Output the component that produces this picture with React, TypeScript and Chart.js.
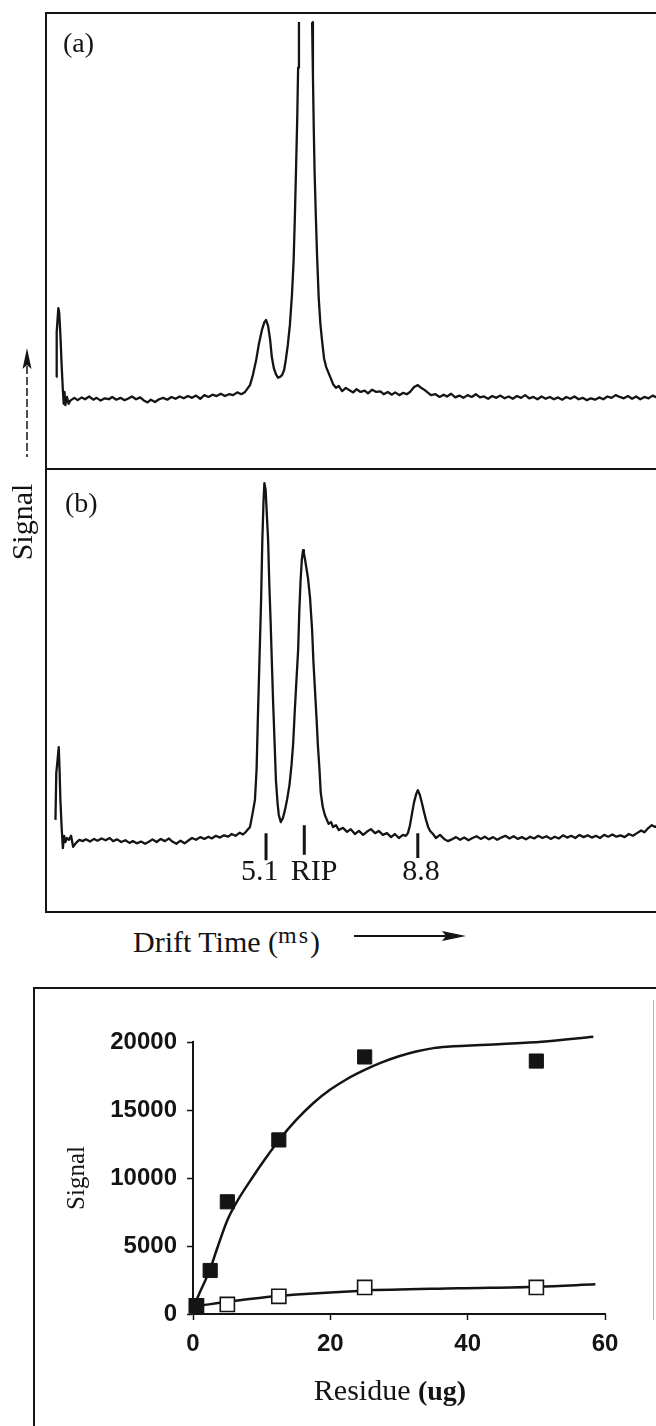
import React, { useEffect, useRef } from "react";
import { Chart, registerables } from "chart.js";

Chart.register(...registerables);

const INK = "#141414";
const SERIF = '"Liberation Serif", "Times New Roman", Times, serif';
const SANS = '"Liberation Sans", Arial, Helvetica, sans-serif';

// ---------- Panel (a): drift time (ms) vs signal (arbitrary units) ----------
const gateSpikeA: [number, number][] = [[0.00,20.2],[0.01,30.0],[0.05,35.3],[0.07,34.4],[0.10,29.4],[0.13,22.8],[0.16,17.3],[0.18,14.3],[0.20,16.9],[0.22,14.0],[0.26,15.8],[0.30,14.3]];
const earlyBaselineA: [number, number][] = [[0.34,15.0],[0.44,15.6],[0.52,15.1],[0.62,15.7],[0.70,15.3],[0.80,15.9],[0.90,15.2],[0.98,15.6],[1.08,15.0],[1.18,15.5],[1.28,15.3],[1.36,15.8],[1.46,15.2],[1.56,15.6],[1.66,15.1],[1.74,15.4],[1.84,15.9],[1.94,15.3],[2.04,15.7],[2.12,15.1],[2.22,14.6],[2.30,15.2],[2.40,14.7],[2.50,15.3],[2.60,15.6],[2.70,15.2],[2.80,15.8],[2.90,15.4],[3.00,15.9],[3.10,15.5],[3.20,16.0],[3.30,15.6],[3.40,16.1],[3.50,15.4],[3.60,16.2],[3.70,15.8],[3.80,16.3],[3.90,16.0],[4.00,16.5],[4.10,16.0],[4.20,16.4],[4.30,16.2],[4.40,16.8],[4.50,16.4]];
const peaksA: [number, number | null][] = [[4.59,16.9],[4.71,18.4],[4.78,20.6],[4.86,23.9],[4.93,27.6],[5.00,30.5],[5.06,32.2],[5.10,32.7],[5.15,31.4],[5.20,28.3],[5.24,24.6],[5.29,22.1],[5.34,20.8],[5.39,20.0],[5.44,20.2],[5.49,20.6],[5.54,21.7],[5.58,23.9],[5.63,27.2],[5.68,31.6],[5.73,38.2],[5.77,45.5],[5.80,55.0],[5.83,66.0],[5.86,77.5],[5.88,88.0],[5.90,98.0],[6.06,null],[6.22,98.0],[6.24,86.4],[6.26,75.0],[6.28,65.4],[6.31,55.7],[6.34,46.9],[6.38,37.7],[6.42,32.0],[6.46,28.3],[6.51,24.3],[6.56,22.4],[6.61,21.3],[6.66,20.2],[6.73,18.6],[6.80,17.8],[6.87,18.2],[6.95,17.1],[7.04,17.8]];
const midBaselineA: [number, number][] = [[7.12,17.3],[7.22,16.8],[7.30,17.5],[7.40,16.9],[7.50,17.2],[7.58,16.6],[7.68,17.4],[7.78,16.9],[7.88,17.0],[7.96,16.4],[8.06,16.9],[8.16,16.3],[8.24,16.8],[8.34,16.2],[8.44,16.7],[8.52,16.4]];
const peak88A: [number, number][] = [[8.60,16.9],[8.70,18.0],[8.79,18.4],[8.87,17.8],[8.96,17.3],[9.11,16.2]];
const lateBaselineA: [number, number][] = [[9.22,16.4],[9.32,15.8],[9.42,16.3],[9.50,15.9],[9.60,16.5],[9.70,15.7],[9.80,16.1],[9.90,15.6],[10.00,16.2],[10.10,15.8],[10.20,16.4],[10.30,15.7],[10.40,15.9],[10.50,15.4],[10.60,16.0],[10.70,15.6],[10.80,16.1],[10.90,15.5],[11.00,15.9],[11.10,15.4],[11.20,16.0],[11.30,15.6],[11.40,16.2],[11.50,15.5],[11.60,15.8],[11.70,15.3],[11.80,15.9],[11.90,15.4],[12.00,15.8],[12.10,15.3],[12.20,15.7],[12.30,15.2],[12.40,15.8],[12.50,15.4],[12.60,15.9],[12.70,15.3],[12.80,15.6],[12.90,15.1],[13.00,15.5],[13.10,15.2],[13.20,15.7],[13.30,15.3],[13.40,15.9],[13.50,15.6],[13.60,16.2],[13.70,15.8],[13.80,15.5],[13.90,16.0],[14.00,15.4],[14.10,15.9],[14.20,15.3],[14.30,15.8],[14.40,15.5],[14.50,16.1],[14.60,15.7],[14.70,15.9],[14.80,15.5]];

// ---------- Panel (b) ----------
const gateSpikeB: [number, number][] = [[-0.02,20.8],[0.00,31.4],[0.02,33.2],[0.06,37.2],[0.08,32.1],[0.10,25.3],[0.13,19.2],[0.16,14.4],[0.19,17.2],[0.22,15.8],[0.26,16.7],[0.31,16.3],[0.36,17.2],[0.41,14.7],[0.48,15.6],[0.56,16.3]];
const earlyBaselineB: [number, number][] = [[0.64,16.0],[0.72,16.4],[0.82,15.9],[0.92,16.5],[1.00,16.1],[1.10,16.6],[1.20,16.2],[1.30,16.7],[1.38,16.0],[1.48,16.4],[1.58,15.8],[1.68,16.2],[1.78,15.6],[1.86,16.0],[1.96,15.5],[2.06,15.9],[2.16,15.4],[2.26,15.9],[2.34,16.4],[2.44,15.8],[2.54,16.5],[2.64,16.0],[2.74,16.6],[2.82,15.9],[2.92,15.4],[3.02,16.1],[3.12,15.5],[3.22,16.2],[3.30,16.7],[3.40,16.3],[3.50,16.9],[3.60,16.5],[3.70,17.0],[3.78,16.6],[3.88,17.2],[3.98,16.8],[4.08,17.3],[4.18,17.0],[4.26,17.6],[4.36,17.2],[4.46,17.9],[4.54,17.5]];
const peaksB: [number, number][] = [[4.61,18.1],[4.71,19.2],[4.78,22.6],[4.83,25.3],[4.87,32.1],[4.90,43.3],[4.94,56.9],[4.98,70.4],[5.01,84.0],[5.04,93.0],[5.06,96.8],[5.09,95.3],[5.12,89.6],[5.15,84.0],[5.18,73.8],[5.21,65.9],[5.24,56.9],[5.27,47.9],[5.31,37.7],[5.34,29.8],[5.38,24.6],[5.41,21.9],[5.46,20.3],[5.51,21.2],[5.56,23.0],[5.61,25.3],[5.67,28.7],[5.72,33.2],[5.76,38.1],[5.80,45.6],[5.84,52.4],[5.88,59.1],[5.91,68.2],[5.94,74.9],[5.97,79.5],[6.00,81.7],[6.02,81.0],[6.05,79.5],[6.08,77.7],[6.12,75.4],[6.17,70.9],[6.22,63.7],[6.25,56.9],[6.29,50.1],[6.33,43.3],[6.36,37.7],[6.40,32.1],[6.43,26.9],[6.48,23.7],[6.53,21.9],[6.58,20.8],[6.62,19.9],[6.68,20.3],[6.73,19.2]];
const midBaselineB: [number, number][] = [[6.80,19.6],[6.87,18.5],[6.97,19.0],[7.07,18.1],[7.16,18.7],[7.26,17.6],[7.36,18.3],[7.46,17.4],[7.55,18.1],[7.65,18.7],[7.75,17.8],[7.84,18.3],[7.94,17.4],[8.04,17.8],[8.14,16.9],[8.23,17.6],[8.33,16.7],[8.43,17.4],[8.50,17.2]];
const peak88B: [number, number][] = [[8.55,17.8],[8.60,19.6],[8.65,22.3],[8.70,24.8],[8.75,26.6],[8.79,27.5],[8.84,26.4],[8.89,24.6],[8.94,22.6],[8.99,20.8],[9.04,19.2],[9.09,18.3],[9.16,17.6],[9.23,16.7],[9.33,17.4],[9.43,16.5],[9.52,16.0]];
const lateBaselineB: [number, number][] = [[9.62,16.4],[9.72,16.9],[9.82,16.3],[9.92,16.8],[10.02,16.2],[10.12,16.7],[10.22,17.1],[10.32,16.5],[10.42,17.0],[10.52,16.4],[10.62,16.9],[10.72,16.3],[10.82,16.8],[10.92,17.2],[11.02,16.6],[11.12,17.1],[11.22,16.5],[11.32,16.9],[11.42,16.4],[11.52,17.0],[11.62,16.6],[11.72,17.2],[11.82,16.7],[11.92,17.1],[12.02,16.5],[12.12,17.0],[12.22,16.6],[12.32,17.3],[12.42,16.8],[12.52,17.2],[12.62,16.7],[12.72,17.4],[12.82,16.9],[12.92,17.3],[13.02,16.8],[13.12,17.2],[13.22,16.7],[13.32,17.4],[13.42,17.0],[13.52,17.5],[13.62,17.0],[13.72,17.3],[13.82,16.9],[13.92,17.6],[14.02,17.2],[14.12,17.8],[14.22,18.4],[14.30,18.0],[14.40,19.0],[14.48,19.6],[14.56,19.2],[14.66,19.8]];

// peak markers under trace (b)
const peakMarkTimes = [5.10, 6.03, 8.79];
const peakMarkTop = [17.8, 19.6, 17.8];
const peakMarkBottom = [11.7, 12.9, 12.2];
const peakLabels = ["5.1", "RIP", "8.8"];
const peakLabelTimes = [4.95, 6.27, 8.87];
const peakLabelLevel = 7.2;

// ---------- Bottom plot: Signal vs Residue (ug) ----------
const residueFilled = [0.5, 2.5, 5, 12.5, 25, 50];
const signalFilled = [600, 3200, 8250, 12800, 18900, 18600];
const residueOpen = [0.5, 5, 12.5, 25, 50];
const signalOpen = [600, 700, 1300, 1950, 1950];
const fitFilledX = [0, 1, 2.5, 3.5, 5, 6.15, 8.8, 10.5, 12.55, 15, 17.5, 20, 22.5, 25, 27.5, 30, 32.5, 35, 37, 45, 50.8, 58.3];
const fitFilledY = [420, 1600, 3300, 4800, 6900, 8050, 10150, 11400, 12800, 14250, 15500, 16500, 17300, 17950, 18500, 18950, 19300, 19550, 19650, 19850, 20020, 20390];
const fitOpenX = [0.5, 5.9, 12.3, 24.7, 38.6, 50.2, 58.6];
const fitOpenY = [580, 956, 1320, 1715, 1890, 2010, 2180];
const residueTicks = [0, 20, 40, 60];
const signalTicks = [0, 5000, 10000, 15000, 20000];
const residueTitle = "Residue ";
const residueUnit = "(ug)";

const DRIFT_MIN = -0.25;
const DRIFT_MAX = 15.7;

function toXY(points: [number, number | null][]) {
  return points.map(([x, y]) => ({ x, y }));
}

function spectrumConfig(points: [number, number | null][], extra: any[], plugins: any[]) {
  return {
    type: "line",
    data: {
      datasets: [
        {
          data: toXY(points),
          borderColor: INK,
          borderWidth: 2.3,
          pointRadius: 0,
          tension: 0,
          spanGaps: false,
          fill: false,
          borderJoinStyle: "round",
        },
        ...extra,
      ],
    },
    options: {
      animation: false,
      responsive: false,
      devicePixelRatio: 1,
      events: [],
      layout: { padding: 0, autoPadding: false },
      plugins: { legend: { display: false }, tooltip: { enabled: false } },
      scales: {
        x: { type: "linear", min: DRIFT_MIN, max: DRIFT_MAX, display: false },
        y: { type: "linear", min: 0, max: 100, display: false },
      },
    },
    plugins,
  };
}

const peakLabelPlugin = {
  id: "peakLabels",
  afterDatasetsDraw(chart: any) {
    const { ctx, scales } = chart;
    ctx.save();
    ctx.font = `30px ${SERIF}`;
    ctx.fillStyle = INK;
    ctx.textAlign = "center";
    ctx.textBaseline = "alphabetic";
    peakLabels.forEach((t, i) => {
      ctx.fillText(t, scales.x.getPixelForValue(peakLabelTimes[i]), scales.y.getPixelForValue(peakLabelLevel));
    });
    ctx.restore();
  },
};

const residueTitlePlugin = {
  id: "residueTitle",
  afterDraw(chart: any) {
    const { ctx, chartArea, scales } = chart;
    const cx = (chartArea.left + chartArea.right) / 2 - 9;
    const y = scales.x.bottom - 26;
    const normal = `30px ${SERIF}`;
    const bold = `bold 28px ${SERIF}`;
    ctx.save();
    ctx.fillStyle = INK;
    ctx.textAlign = "left";
    ctx.textBaseline = "alphabetic";
    ctx.font = normal;
    const w1 = ctx.measureText(residueTitle).width;
    ctx.font = bold;
    const w2 = ctx.measureText(residueUnit).width;
    const x0 = cx - (w1 + w2) / 2;
    ctx.font = normal;
    ctx.fillText(residueTitle, x0, y);
    ctx.font = bold;
    ctx.fillText(residueUnit, x0 + w1, y);
    ctx.restore();
  },
};

function markDataset() {
  const pts: { x: number; y: number | null }[] = [];
  peakMarkTimes.forEach((t, i) => {
    pts.push({ x: t, y: peakMarkTop[i] }, { x: t, y: peakMarkBottom[i] }, { x: t + 0.01, y: null });
  });
  return {
    data: pts,
    borderColor: INK,
    borderWidth: 3,
    pointRadius: 0,
    spanGaps: false,
    tension: 0,
    borderCapStyle: "butt",
  };
}

function residueConfig() {
  return {
    type: "scatter",
    data: {
      datasets: [
        {
          label: "filled",
          data: residueFilled.map((x, i) => ({ x, y: signalFilled[i] })),
          pointStyle: "rect",
          pointRadius: 10,
          backgroundColor: INK,
          borderColor: INK,
          borderWidth: 1,
          order: 0,
          clip: false,
        },
        {
          label: "open",
          data: residueOpen.map((x, i) => ({ x, y: signalOpen[i] })),
          pointStyle: "rect",
          pointRadius: 10,
          backgroundColor: "#ffffff",
          borderColor: INK,
          borderWidth: 1.6,
          order: 1,
          clip: false,
        },
        {
          label: "fit filled",
          data: fitFilledX.map((x, i) => ({ x, y: fitFilledY[i] })),
          showLine: true,
          pointRadius: 0,
          borderColor: INK,
          borderWidth: 2.5,
          cubicInterpolationMode: "monotone",
          order: 2,
          clip: false,
        },
        {
          label: "fit open",
          data: fitOpenX.map((x, i) => ({ x, y: fitOpenY[i] })),
          showLine: true,
          pointRadius: 0,
          borderColor: INK,
          borderWidth: 2.5,
          cubicInterpolationMode: "monotone",
          order: 3,
          clip: false,
        },
      ],
    },
    options: {
      animation: false,
      responsive: false,
      devicePixelRatio: 1,
      events: [],
      layout: { padding: { top: 54, right: 51, left: 0, bottom: 0 }, autoPadding: false },
      plugins: { legend: { display: false }, tooltip: { enabled: false } },
      scales: {
        x: {
          type: "linear",
          min: 0,
          max: 60,
          afterBuildTicks: (s: any) => {
            s.ticks = residueTicks.map((value) => ({ value }));
          },
          afterFit: (s: any) => {
            s.height = 112;
          },
          ticks: {
            color: INK,
            padding: 10,
            maxRotation: 0,
            font: { family: SANS, size: 24, weight: "bold" },
            callback: (v: any) => String(v),
          },
          grid: { drawOnChartArea: false, drawTicks: true, tickLength: 6, tickColor: INK, tickWidth: 1.5 },
          border: { display: true, color: INK, width: 2 },
          title: { display: false },
        },
        y: {
          type: "linear",
          min: 0,
          max: 20000,
          afterBuildTicks: (s: any) => {
            s.ticks = signalTicks.map((value) => ({ value }));
          },
          afterFit: (s: any) => {
            s.width = 193;
          },
          ticks: {
            color: INK,
            padding: 10,
            font: { family: SANS, size: 24, weight: "bold" },
            callback: (v: any) => String(v),
          },
          grid: { drawOnChartArea: false, drawTicks: true, tickLength: 6, tickColor: INK, tickWidth: 1.5 },
          border: { display: true, color: INK, width: 2 },
          title: {
            display: true,
            text: "Signal",
            color: INK,
            font: { family: SERIF, size: 25 },
            padding: { top: 62, bottom: 0 },
          },
        },
      },
    },
    plugins: [residueTitlePlugin],
  };
}

function useChart(factory: () => any) {
  const ref = useRef<HTMLCanvasElement | null>(null);
  useEffect(() => {
    if (!ref.current) return;
    const chart = new Chart(ref.current, factory());
    return () => chart.destroy();
  }, []);
  return ref;
}

const traceA = [...gateSpikeA, ...earlyBaselineA, ...peaksA, ...midBaselineA, ...peak88A, ...lateBaselineA];
const traceB = [...gateSpikeB, ...earlyBaselineB, ...peaksB, ...midBaselineB, ...peak88B, ...lateBaselineB];

function Rule({ x, y, w, h, color = INK }: { x: number; y: number; w: number; h: number; color?: string }) {
  return <div style={{ position: "absolute", left: x, top: y, width: w, height: h, background: color }} />;
}

export default function App() {
  const refA = useChart(() => spectrumConfig(traceA, [], []));
  const refB = useChart(() => spectrumConfig(traceB, [markDataset()], [peakLabelPlugin]));
  const refC = useChart(() => residueConfig());

  const abs = { position: "absolute" as const };

  return (
    <div
      style={{
        position: "absolute",
        left: 0,
        top: 0,
        width: 656,
        height: 1426,
        overflow: "hidden",
        background: "#ffffff",
        color: INK,
        fontFamily: SERIF,
      }}
    >
      {/* spectra frames */}
      <Rule x={45} y={12} w={620} h={2} />
      <Rule x={45} y={468} w={620} h={2} />
      <Rule x={45} y={911} w={620} h={2} />
      <Rule x={45} y={12} w={2} h={901} />

      <canvas ref={refA} width={656} height={456} style={{ ...abs, left: 46, top: 13, width: 656, height: 456 }} />
      <canvas ref={refB} width={656} height={443} style={{ ...abs, left: 46, top: 469, width: 656, height: 443 }} />

      <div style={{ ...abs, left: 63, top: 28.5, fontSize: 28, lineHeight: 1, whiteSpace: "nowrap" }}>(a)</div>
      <div style={{ ...abs, left: 65, top: 488.5, fontSize: 28, lineHeight: 1, whiteSpace: "nowrap" }}>(b)</div>

      {/* Signal arrow (dashed) */}
      <svg style={{ ...abs, left: 0, top: 0 }} width={60} height={470}>
        <line x1={27} y1={366} x2={27} y2={457} stroke={INK} strokeWidth={1.5} strokeDasharray="8 3" />
        <polygon points="27,348 22.5,369 27,365 31.5,369" fill={INK} />
      </svg>
      <div
        style={{
          ...abs,
          left: 22,
          top: 522,
          fontSize: 30,
          lineHeight: 1,
          whiteSpace: "nowrap",
          transform: "translate(-50%, -50%) rotate(-90deg)",
        }}
      >
        Signal
      </div>

      {/* x title of spectra */}
      <div style={{ ...abs, left: 133, top: 927, fontSize: 30, lineHeight: 1, whiteSpace: "nowrap" }}>
        Drift Time (
        <span style={{ fontSize: 24, lineHeight: 0, verticalAlign: "9px", letterSpacing: "2px" }}>ms</span>)
      </div>
      <svg style={{ ...abs, left: 340, top: 920 }} width={140} height={32}>
        <line x1={14} y1={16} x2={110} y2={16} stroke={INK} strokeWidth={2} />
        <polygon points="102,11 126,16 102,21 106,16" fill={INK} />
      </svg>

      {/* bottom plot frame */}
      <Rule x={33} y={987} w={640} h={2} />
      <Rule x={33} y={987} w={2} h={450} />
      <Rule x={653} y={1000} w={1} h={320} color="#b5b5b5" />

      <canvas ref={refC} width={656} height={438} style={{ ...abs, left: 0, top: 988, width: 656, height: 438 }} />
    </div>
  );
}
